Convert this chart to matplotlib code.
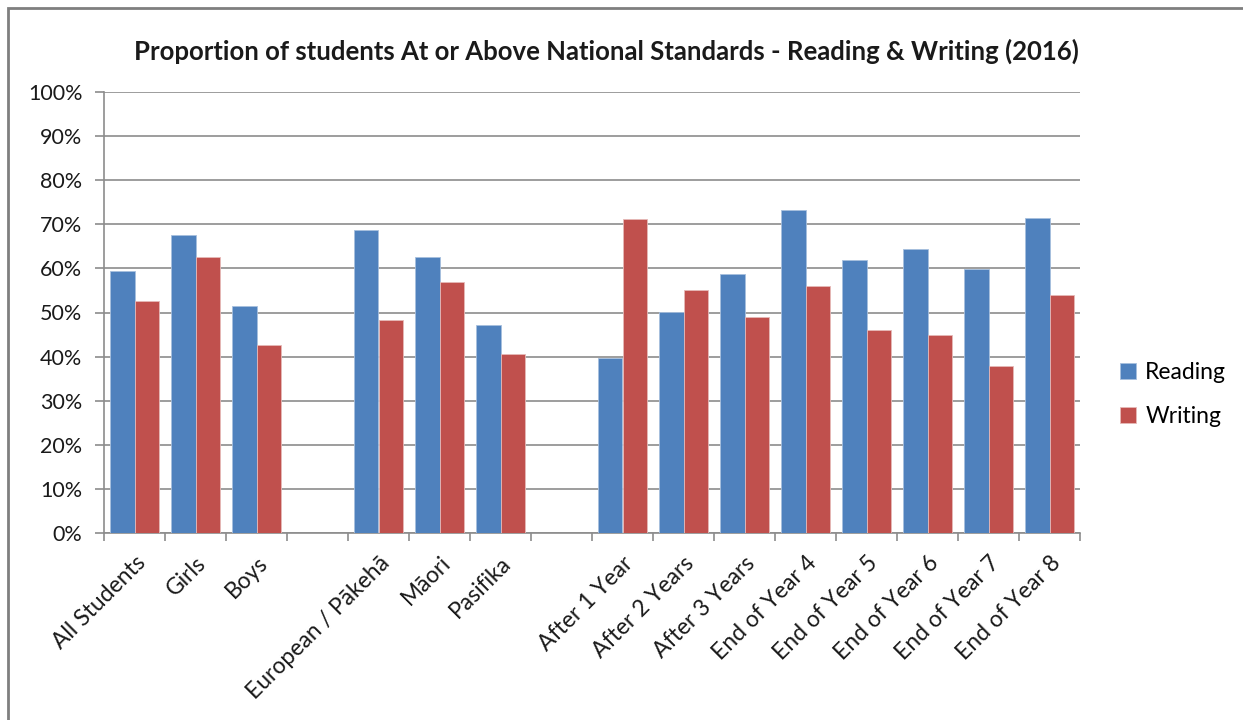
import matplotlib.pyplot as plt
import numpy as np
from matplotlib.patches import Rectangle
from matplotlib.ticker import FuncFormatter, MultipleLocator

plt.rcParams["font.family"] = ["Lato", "DejaVu Sans"]

# Category groups (empty strings are the spacer slots between groups)
categories = [
    "All Students", "Girls", "Boys", "",
    "European / Pākehā", "Māori", "Pasifika", "",
    "After 1 Year", "After 2 Years", "After 3 Years", "End of Year 4",
    "End of Year 5", "End of Year 6", "End of Year 7", "End of Year 8",
]
reading = [59.3, 67.6, 51.4, None, 68.6, 62.6, 47.2, None,
           39.6, 50.1, 58.7, 73.3, 62.0, 64.5, 59.9, 71.4]
writing = [52.5, 62.6, 42.6, None, 48.3, 56.9, 40.6, None,
           71.1, 55.2, 48.9, 56.0, 46.1, 44.8, 37.9, 53.9]

blue = "#4F81BD"
red = "#C0504D"
grid_grey = "#8C8C8C"
text_col = "#1a1a1a"

fig = plt.figure(figsize=(12.43, 7.2), dpi=100)
ax = fig.add_axes([104 / 1243, 1 - 533 / 720, (1080 - 104) / 1243, (533 - 92) / 720])

x = np.arange(len(categories))
w = 1 / 2.5
r_x = [xi for xi, v in zip(x, reading) if v is not None]
r_v = [v for v in reading if v is not None]
w_x = [xi for xi, v in zip(x, writing) if v is not None]
w_v = [v for v in writing if v is not None]

ax.bar(np.array(r_x) - w / 2, r_v, width=w, color=blue, edgecolor="#A7BFDE",
       linewidth=0.6, label="Reading", zorder=3)
ax.bar(np.array(w_x) + w / 2, w_v, width=w, color=red, edgecolor="#E6B9B8",
       linewidth=0.6, label="Writing", zorder=3)

ax.set_xlim(-0.5, len(categories) - 0.5)
ax.set_ylim(0, 100)
ax.yaxis.set_major_locator(MultipleLocator(10))
ax.yaxis.set_major_formatter(FuncFormatter(lambda v, p: f"{v:.0f}%"))
ax.grid(axis="y", color=grid_grey, linewidth=1.2, zorder=0)

# tick marks sit on category boundaries, labels at centres
ax.set_xticks(np.arange(len(categories) + 1) - 0.5)
ax.set_xticklabels([])
ax.set_xticks(x, minor=True)
ax.set_xticklabels(categories, minor=True, rotation=45, ha="right",
                   rotation_mode="anchor", fontsize=16.5, color=text_col)
ax.tick_params(axis="x", which="minor", length=0, pad=14)
ax.tick_params(axis="x", which="major", length=6, color=grid_grey, width=1.2)
ax.tick_params(axis="y", length=6.5, color=grid_grey, width=1.2, labelsize=15.5,
               labelcolor=text_col, pad=9)

for s in ["top", "right"]:
    ax.spines[s].set_visible(False)
for s in ["left", "bottom"]:
    ax.spines[s].set_color(grid_grey)
    ax.spines[s].set_linewidth(1.2)

fig.text(606 / 1243, 1 - 51 / 720,
         "Proportion of students At or Above National Standards - Reading & Writing (2016)",
         ha="center", va="center", fontsize=18.5, fontweight="bold", color=text_col)

ax.legend(loc="center left", bbox_to_anchor=(1.02, 0.314), frameon=False,
          fontsize=16.5, handlelength=0.7, handleheight=0.7, labelspacing=1.0,
          handletextpad=0.4)

# outer chart frame
fig.patches.append(Rectangle((8 / 1243, -0.1), 1.2, 1 - 8 / 720 + 0.1,
                             transform=fig.transFigure, fill=False,
                             edgecolor="#7F7F7F", linewidth=2))

fig.savefig("out.png", dpi=100)
